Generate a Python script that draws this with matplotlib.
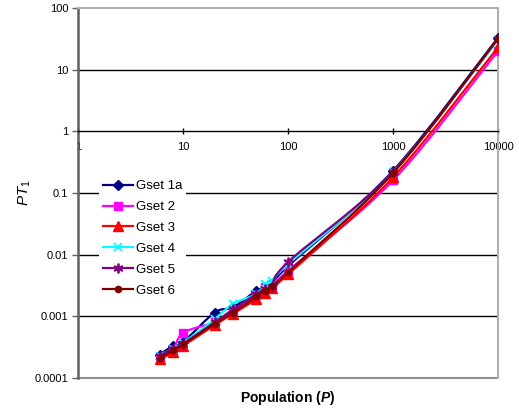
import numpy as np
import matplotlib
matplotlib.use("Agg")
import matplotlib.pyplot as plt
from matplotlib.path import Path
from matplotlib.patches import PathPatch
from matplotlib.lines import Line2D
from matplotlib.ticker import FixedLocator, NullLocator

plt.rcParams['font.family'] = ['Liberation Sans', 'DejaVu Sans']
plt.rcParams['mathtext.fontset'] = 'custom'
plt.rcParams['mathtext.rm'] = 'Liberation Sans'
plt.rcParams['mathtext.it'] = 'Liberation Sans:italic'
plt.rcParams['mathtext.bf'] = 'Liberation Sans:bold'
plt.rcParams['mathtext.bfit'] = 'Liberation Sans:bold:italic'

# population sizes
population = [6, 8, 10, 20, 30, 50, 60, 70, 100, 1000, 10000]

gset_1a = [0.00024, 0.00033, 0.00038, 0.00115, 0.0014, 0.0026, 0.0029, 0.0034, 0.0065, 0.23, 33]
gset_2 = [0.00022, 0.00028, 0.00054, 0.00080, 0.0012, 0.0022, 0.0030, 0.0033, 0.0055, 0.16, 20]
gset_3 = [0.00020, 0.00026, 0.00033, 0.00072, 0.0011, 0.0019, 0.0024, 0.0029, 0.0048, 0.18, 23]
gset_4 = [0.00023, 0.00030, 0.00037, 0.00090, 0.0016, 0.0023, 0.0033, 0.0037, 0.0070, 0.22, 30]
gset_5 = [0.00023, 0.00030, 0.00036, 0.00080, 0.0013, 0.0023, 0.0028, 0.0030, 0.0076, 0.22, 32]
gset_6 = [0.00021, 0.00028, 0.00035, 0.00076, 0.00115, 0.0021, 0.0026, 0.0031, 0.0052, 0.21, 32]

series = [
    ("Gset 1a", gset_1a, "#000080", dict(marker="D", ms=5)),
    ("Gset 2", gset_2, "#FF00FF", dict(marker="s", ms=6)),
    ("Gset 3", gset_3, "#FF0000", dict(marker="^", ms=7)),
    ("Gset 4", gset_4, "#00FFFF", dict(marker="x", ms=6, mew=1.3)),
    ("Gset 5", gset_5, "#800080", dict(marker=(6, 2, 0), ms=7, mew=1.3)),
    ("Gset 6", gset_6, "#800000", dict(marker="o", ms=4.5)),
]


def smooth_path(xs, ys):
    # Catmull-Rom style bezier in log-log space (like a spreadsheet "smoothed line")
    pts = np.column_stack([np.log10(xs), np.log10(ys)])
    n = len(pts)
    verts = [pts[0]]
    codes = [Path.MOVETO]
    for i in range(n - 1):
        p0 = pts[i - 1] if i > 0 else pts[i]
        p1 = pts[i]
        p2 = pts[i + 1]
        p3 = pts[i + 2] if i + 2 < n else pts[i + 1]
        verts += [p1 + (p2 - p0) / 6, p2 - (p3 - p1) / 6, p2]
        codes += [Path.CURVE4] * 3
    return Path(10 ** np.array(verts), codes)


fig = plt.figure(figsize=(5.19, 4.12), dpi=100)
ax = fig.add_axes([78 / 519, 1 - 378 / 412, 420 / 519, 370 / 412])
ax.set_xscale("log")
ax.set_yscale("log")
ax.set_xlim(1, 10000)
ax.set_ylim(0.0001, 100)

for yv in [10, 0.1, 0.01, 0.001]:
    ax.axhline(yv, color="black", lw=1, zorder=1)

handles = []
for name, vals, color, mk in series:
    ax.add_patch(PathPatch(smooth_path(population, vals), fill=False,
                           edgecolor=color, lw=1.6, zorder=3))
    ax.plot(population, vals, ls="none", color=color, mec=color, zorder=3, **mk)
    handles.append(Line2D([], [], color=color, lw=1.6, mec=color, label=name, **mk))

# x axis crosses at 1
ax.spines["bottom"].set_position(("data", 1))
ax.spines["bottom"].set_color("black")
ax.spines["bottom"].set_linewidth(1)
ax.spines["left"].set_color("#606060")
ax.spines["left"].set_linewidth(1.8)
for s in ["top", "right"]:
    ax.spines[s].set_color("#b0b0b0")
    ax.spines[s].set_linewidth(1.5)
ax.axhline(0.0001, color="#909090", lw=1.5, clip_on=False, zorder=0.5)

ax.xaxis.set_major_locator(FixedLocator([1, 10, 100, 1000, 10000]))
ax.yaxis.set_major_locator(FixedLocator([0.0001, 0.001, 0.01, 0.1, 1, 10, 100]))
ax.xaxis.set_minor_locator(NullLocator())
ax.yaxis.set_minor_locator(NullLocator())
ax.set_xticklabels(["1", "10", "100", "1000", "10000"])
ax.set_yticklabels(["0.0001", "0.001", "0.01", "0.1", "1", "10", "100"])
ax.tick_params(axis="x", direction="inout", length=5, width=1, labelsize=8, pad=5)
ax.tick_params(axis="y", direction="out", length=4, width=1, color="#606060",
               labelsize=8, pad=3)

ax.set_ylabel(r"$PT_{1}$", fontsize=11, labelpad=1)
fig.text(288 / 519, 1 - 398 / 412, r"Population ($\mathbfit{P}$)", fontsize=10,
         fontweight="bold", ha="center", va="center")

leg = ax.legend(handles=handles, loc="upper left", bbox_to_anchor=(21 / 420, 202 / 370),
                frameon=True, fontsize=9.5, handlelength=2.3, handletextpad=0.2,
                labelspacing=0.66, borderpad=0.3, borderaxespad=0, fancybox=False)
leg.get_frame().set_edgecolor("none")
leg.get_frame().set_facecolor("white")
leg.get_frame().set_alpha(1)
leg.set_zorder(4)

fig.savefig("out.png", dpi=100)
